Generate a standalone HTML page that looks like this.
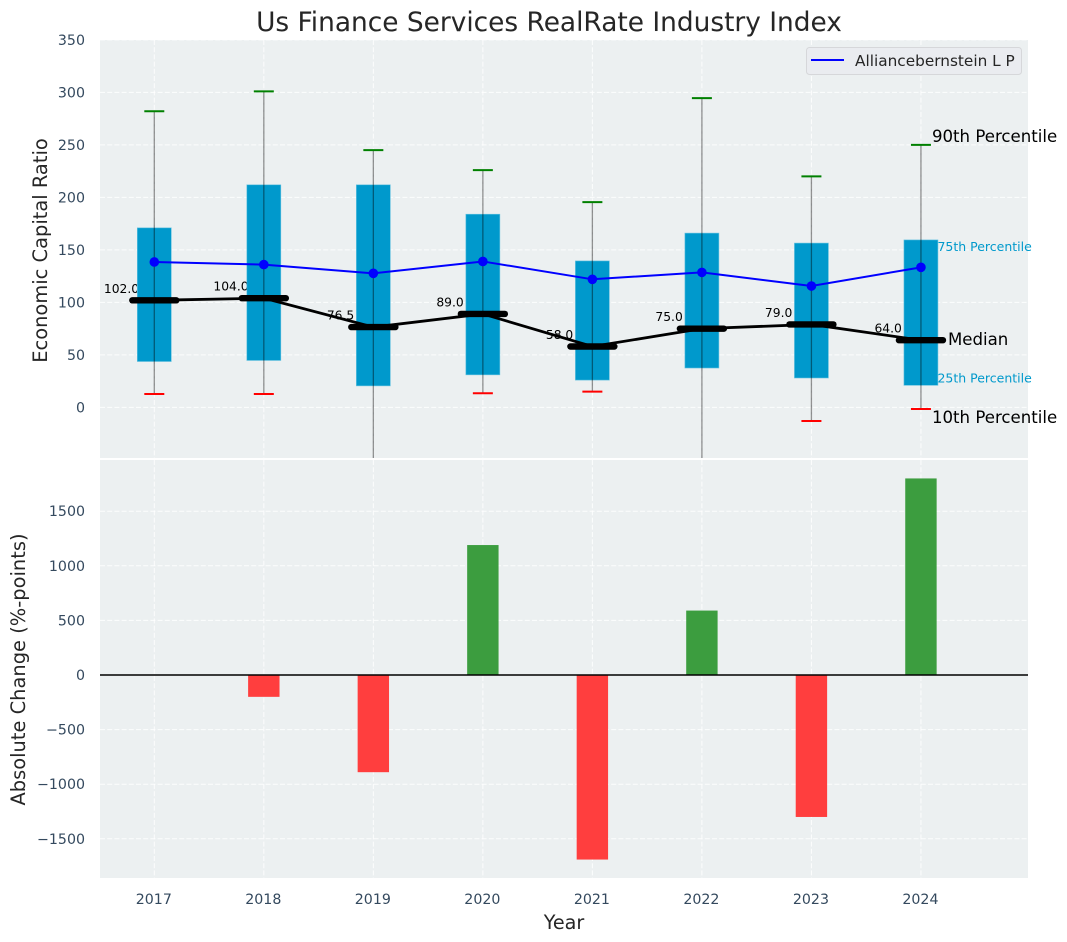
<!DOCTYPE html>
<html>
<head>
<meta charset="utf-8">
<title>Us Finance Services RealRate Industry Index</title>
<style>
html,body{margin:0;padding:0;background:#fff;width:1067px;height:942px;overflow:hidden}
svg{display:block;font-family:"DejaVu Sans","Liberation Sans",sans-serif}
</style>
</head>
<body>
<svg id="chart" xmlns="http://www.w3.org/2000/svg" width="1067" height="942" viewBox="0 0 1067 942">
  <defs>
    <clipPath id="top-clip"><rect x="100" y="40" width="928" height="418"/></clipPath>
    <clipPath id="bottom-clip"><rect x="100" y="460" width="928" height="418"/></clipPath>
  </defs>
  <rect x="100" y="40" width="928" height="418" fill="#ecf0f1"/>
  <rect x="100" y="460" width="928" height="418" fill="#ecf0f1"/>
  <g id="grid"></g>
  <g id="top-marks" clip-path="url(#top-clip)"></g>
  <g id="bottom-marks" clip-path="url(#bottom-clip)"></g>
  <g id="ticks"></g>
  <g id="annotations"></g>
  <text x="549" y="31" text-anchor="middle" font-size="26.4px" fill="#262626">Us Finance Services RealRate Industry Index</text>
  <text transform="translate(47,250.5) rotate(-90)" text-anchor="middle" font-size="19.45px" fill="#262626">Economic Capital Ratio</text>
  <text transform="translate(25,669.5) rotate(-90)" text-anchor="middle" font-size="19.45px" fill="#262626">Absolute Change (%-points)</text>
  <text x="564" y="929" text-anchor="middle" font-size="19.2px" fill="#262626">Year</text>
  <g>
    <rect x="806.5" y="47.5" width="215" height="27" rx="3" fill="#eaecf0" stroke="#d6d7da" stroke-width="1"/>
    <line x1="811" x2="844" y1="60" y2="60" stroke="#0000ff" stroke-width="2"/>
    <text x="855" y="66" font-size="15.3px" fill="#262626">Alliancebernstein L P</text>
  </g>
</svg>
<script>
const years = [2017, 2018, 2019, 2020, 2021, 2022, 2023, 2024];
const p90 = [282, 301, 245, 226, 195.5, 294.5, 220, 250];
const p75 = [171, 212, 212, 184, 139.5, 166, 156.5, 159.5];
const medians = [102, 104, 76.5, 89, 58, 75, 79, 64];
const p25 = [43.7, 44.7, 20.5, 31, 26, 37.5, 28, 21];
const p10 = [12.8, 12.8, -60, 13.5, 15, -60, -13, -1.5];
const companyValues = [138.5, 136, 127.7, 139, 122, 128.6, 115.6, 133.4];
const absoluteChanges = [0, -200, -890, 1190, -1690, 590, -1300, 1800];
const topTicks = [0, 50, 100, 150, 200, 250, 300, 350];
const bottomTicks = [-1500, -1000, -500, 0, 500, 1000, 1500];

const NS = 'http://www.w3.org/2000/svg';
const xScale = function (year) { return 154.3 + (year - 2017) * 109.52; };
const yTop = function (v) { return 407.4 - v * 1.05; };
const yBottom = function (v) { return 675 - v * 0.1092; };
const fmt = function (v) { return String(v).replace('-', '\u2212'); };

function mk(parent, tag, attrs, text) {
  const el = document.createElementNS(NS, tag);
  for (const k in attrs) el.setAttribute(k, attrs[k]);
  if (text !== undefined) el.textContent = text;
  parent.appendChild(el);
  return el;
}

const grid = document.getElementById('grid');
const ticks = document.getElementById('ticks');
const topMarks = document.getElementById('top-marks');
const bottomMarks = document.getElementById('bottom-marks');
const notes = document.getElementById('annotations');
const gridStyle = { stroke: '#ffffff', 'stroke-width': 1, 'stroke-dasharray': '5 2.2', 'stroke-opacity': 0.85 };

function gridLine(x1, y1, x2, y2) {
  return mk(grid, 'line', Object.assign({ x1: x1, y1: y1, x2: x2, y2: y2 }, gridStyle));
}

topTicks.forEach(function (t) {
  const y = yTop(t);
  const g = gridLine(100, y, 1028, y);
  
  
  const l = mk(ticks, 'text', { x: 85, y: y + 5, 'text-anchor': 'end', 'font-size': '14.2px', fill: '#34495e' }, fmt(t));
  
  
});

bottomTicks.forEach(function (t) {
  const y = yBottom(t);
  const g = gridLine(100, y, 1028, y);
  
  
  const l = mk(ticks, 'text', { x: 85, y: y + 5, 'text-anchor': 'end', 'font-size': '14.2px', fill: '#34495e' }, fmt(t));
  
  
});

years.forEach(function (yr) {
  const x = xScale(yr);
  const g1 = gridLine(x, 40, x, 458);
  
  
  const g2 = gridLine(x, 460, x, 878);
  
  
  const l = mk(ticks, 'text', { x: x - 0.5, y: 904, 'text-anchor': 'middle', 'font-size': '14.2px', fill: '#34495e' }, String(yr));
  
  
});

/* median value labels sit underneath the marks */
years.forEach(function (yr, i) {
  const l = mk(topMarks, 'text', { x: xScale(yr) - 32.8, y: yTop(medians[i]) - 7.5, 'text-anchor': 'middle', 'font-size': '12.3px', fill: '#000' }, medians[i].toFixed(1));
  
  
});

/* interquartile boxes */
years.forEach(function (yr, i) {
  const x = xScale(yr);
  const box = mk(topMarks, 'rect', { x: x - 17, y: yTop(p75[i]), width: 34, height: yTop(p25[i]) - yTop(p75[i]), fill: '#0099cc', stroke: '#66c2e0', 'stroke-width': 0.6 });
  
  
});

/* whiskers and caps */
years.forEach(function (yr, i) {
  const x = xScale(yr);
  const w = mk(topMarks, 'line', { x1: x, x2: x, y1: yTop(p90[i]), y2: yTop(p10[i]), stroke: '#000', 'stroke-opacity': 0.42, 'stroke-width': 1.3 });
  
  
  const hi = mk(topMarks, 'line', { x1: x - 10, x2: x + 10, y1: yTop(p90[i]), y2: yTop(p90[i]), stroke: '#008000', 'stroke-width': 2 });
  
  
  const lo = mk(topMarks, 'line', { x1: x - 10, x2: x + 10, y1: yTop(p10[i]), y2: yTop(p10[i]), stroke: '#ff0000', 'stroke-width': 2 });
  
  
});

/* median connecting line and thick median bars */
const medianPath = mk(topMarks, 'polyline', { points: years.map(function (yr, i) { return xScale(yr) + ',' + yTop(medians[i]); }).join(' '), fill: 'none', stroke: '#000', 'stroke-width': 2.8 });


years.forEach(function (yr, i) {
  const x = xScale(yr);
  const m = mk(topMarks, 'line', { x1: x - 22, x2: x + 22, y1: yTop(medians[i]), y2: yTop(medians[i]), stroke: '#000', 'stroke-width': 6.4, 'stroke-linecap': 'round' });
  
  
});

/* company line */
const companyLine = mk(topMarks, 'polyline', { points: years.map(function (yr, i) { return xScale(yr) + ',' + yTop(companyValues[i]); }).join(' '), fill: 'none', stroke: '#0000ff', 'stroke-width': 2 });


years.forEach(function (yr, i) {
  const p = mk(topMarks, 'circle', { cx: xScale(yr), cy: yTop(companyValues[i]), r: 4.8, fill: '#0000ff' });
  
  
});

/* change bars */
years.forEach(function (yr, i) {
  const v = absoluteChanges[i];
  const y0 = yBottom(0);
  const y1 = yBottom(v);
  const b = mk(bottomMarks, 'rect', { x: xScale(yr) - 15.7, y: Math.min(y0, y1), width: 31.4, height: Math.abs(y1 - y0), fill: v >= 0 ? '#3c9d3f' : '#ff3e3e' });
  
  
});
const zeroLine = mk(bottomMarks, 'line', { x1: 100, x2: 1028, y1: yBottom(0), y2: yBottom(0), stroke: '#000', 'stroke-width': 1.6 });



/* annotations beside the last box */
const last = years.length - 1;
const lastX = xScale(years[last]);
const a90 = mk(notes, 'text', { x: lastX + 11, y: yTop(p90[last]) - 3, 'font-size': '16.6px', fill: '#000' }, '90th Percentile');


const a75 = mk(notes, 'text', { x: lastX + 16.5, y: yTop(p75[last]) + 11, 'font-size': '12.5px', fill: '#0099cc' }, '75th Percentile');


const aMed = mk(notes, 'text', { x: lastX + 27, y: yTop(medians[last]) + 5, 'font-size': '16.6px', fill: '#000' }, 'Median');


const a25 = mk(notes, 'text', { x: lastX + 16.5, y: yTop(p25[last]) - 3, 'font-size': '12.5px', fill: '#0099cc' }, '25th Percentile');


const a10 = mk(notes, 'text', { x: lastX + 11, y: yTop(p10[last]) + 14, 'font-size': '16.6px', fill: '#000' }, '10th Percentile');


</script>
</body>
</html>
